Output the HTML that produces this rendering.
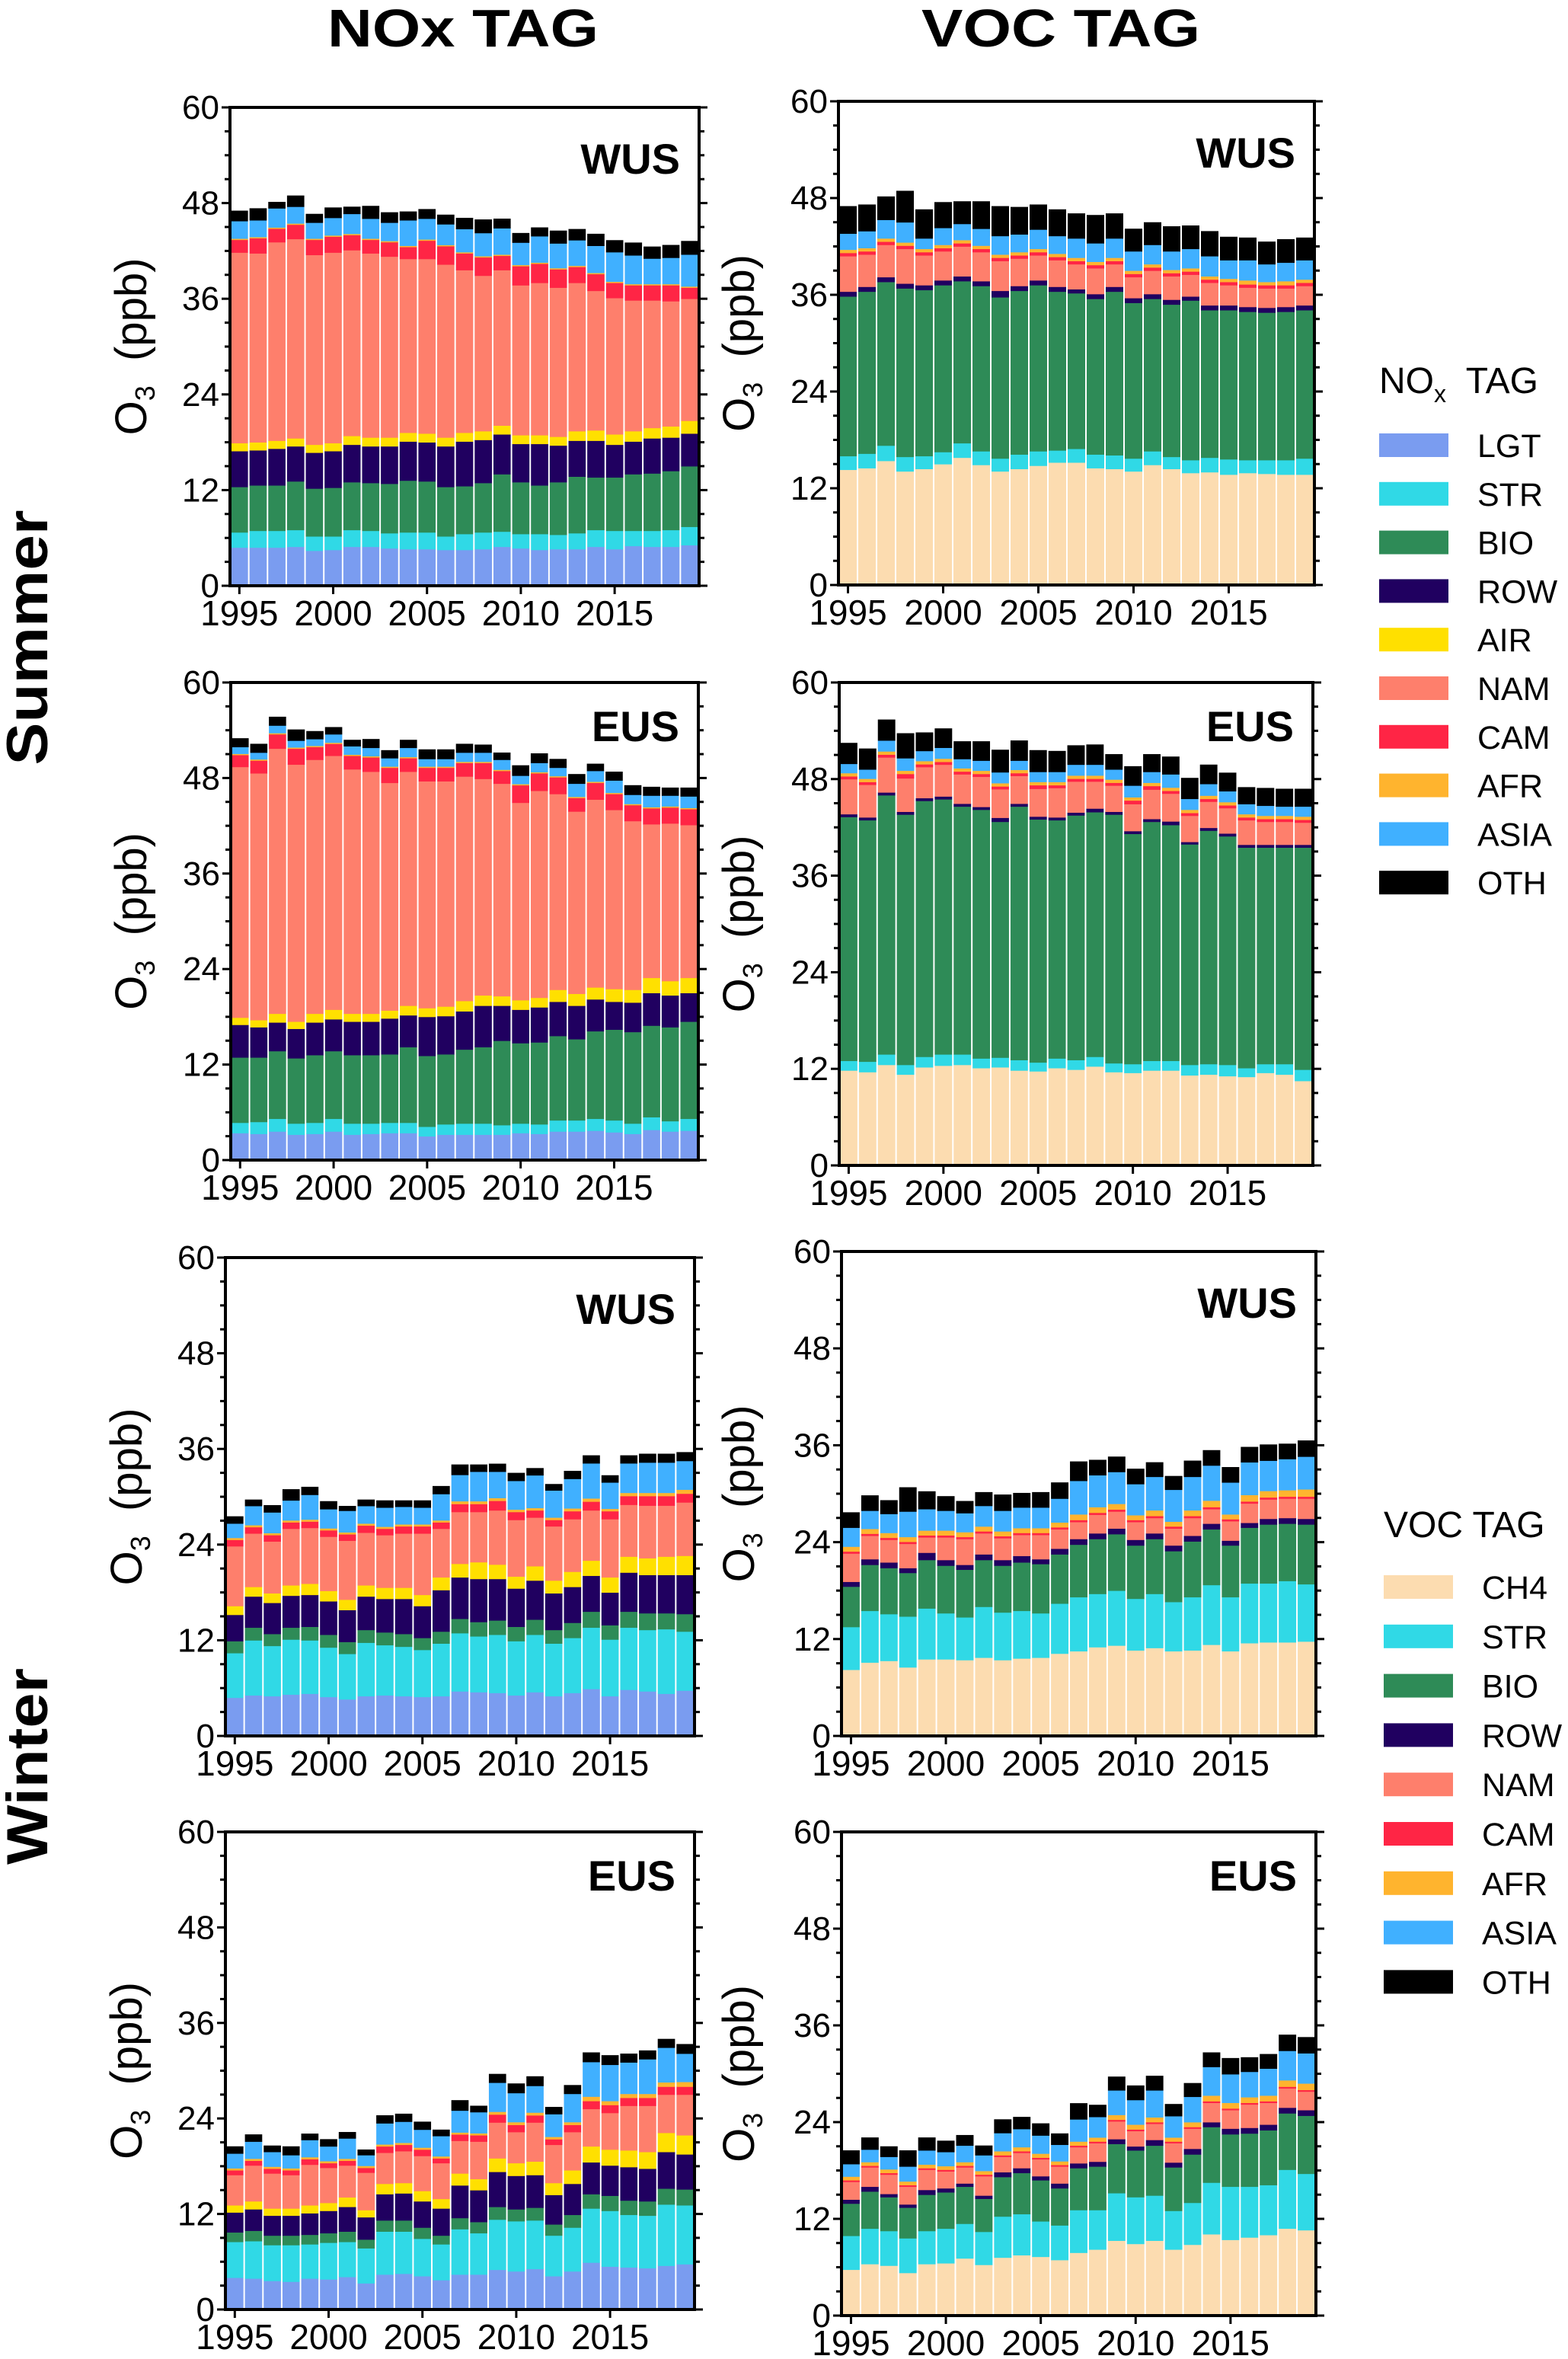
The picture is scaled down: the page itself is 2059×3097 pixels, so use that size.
<!DOCTYPE html>
<html><head><meta charset="utf-8"><style>
html,body{margin:0;padding:0;background:#fff;}
svg{display:block;font-family:"Liberation Sans",Arial,sans-serif;}
</style></head><body>
<svg id="fig" xmlns="http://www.w3.org/2000/svg" width="2059" height="3097" viewBox="0 0 2059 3097">
<text x="608" y="61" font-size="70" font-weight="bold" text-anchor="middle" textLength="356" lengthAdjust="spacingAndGlyphs">NOx TAG</text>
<text x="1393" y="61" font-size="70" font-weight="bold" text-anchor="middle" textLength="366" lengthAdjust="spacingAndGlyphs">VOC TAG</text>
<text transform="translate(62,837) rotate(-90)" font-size="76" font-weight="bold" text-anchor="middle" textLength="335" lengthAdjust="spacingAndGlyphs">Summer</text>
<text transform="translate(62,2319) rotate(-90)" font-size="76" font-weight="bold" text-anchor="middle" textLength="258" lengthAdjust="spacingAndGlyphs">Winter</text>
<g id="panels"></g>
<g id="legends"></g>
</svg>
<script>
const years = [1995,1996,1997,1998,1999,2000,2001,2002,2003,2004,2005,2006,2007,2008,2009,2010,2011,2012,2013,2014,2015,2016,2017,2018,2019];
const yTicks = [0,12,24,36,48,60];
const xTicks = [1995,2000,2005,2010,2015];
const noxTags = ['LGT','STR','BIO','ROW','AIR','NAM','CAM','AFR','ASIA','OTH'];
const vocTags = ['CH4','STR','BIO','ROW','NAM','CAM','AFR','ASIA','OTH'];
const tagColors = {LGT:'#7a9cf0',STR:'#30d9e6',BIO:'#2e8b57',ROW:'#200060',AIR:'#ffe000',NAM:'#fe7f6c',CAM:'#ff2545',AFR:'#ffb42e',ASIA:'#40b0ff',OTH:'#000000',CH4:'#fcdcb0'};

// Panel A: NOx tag, summer, WUS
const noxSumWUS_LGT = [4.8,4.8,4.8,4.9,4.4,4.5,4.9,4.9,4.7,4.6,4.6,4.5,4.5,4.6,4.9,4.7,4.5,4.6,4.6,4.9,4.6,5.0,4.9,4.9,5.1];
const noxSumWUS_STR = [1.9,2.1,2.1,2.1,1.8,1.7,2.1,2.0,1.9,2.1,2.1,1.7,2.0,2.1,1.9,1.8,2.0,1.8,2.0,2.1,2.3,1.9,2.0,2.1,2.3];
const noxSumWUS_BIO = [5.7,5.7,5.7,6.1,6.0,6.1,6.0,6.0,6.2,6.5,6.4,6.2,6.0,6.2,7.2,6.5,6.1,6.6,7.1,6.6,6.7,7.1,7.2,7.4,7.6];
const noxSumWUS_ROW = [4.5,4.4,4.6,4.4,4.5,4.6,4.7,4.6,4.7,4.9,4.9,5.1,5.6,5.4,5.0,4.8,5.2,4.6,4.5,4.6,4.1,4.1,4.4,4.2,4.1];
const noxSumWUS_AIR = [1.0,1.0,1.0,1.0,1.0,1.0,1.1,1.1,1.1,1.1,1.1,1.1,1.1,1.1,1.1,1.1,1.1,1.1,1.2,1.3,1.3,1.3,1.3,1.4,1.6];
const noxSumWUS_NAM = [23.9,23.7,24.9,25.0,23.8,23.9,23.3,23.1,22.7,21.8,21.9,21.7,20.4,19.5,19.5,18.8,19.1,18.7,18.6,17.5,17.1,16.4,16.0,15.7,15.3];
const noxSumWUS_CAM = [1.6,1.9,1.7,1.8,1.9,2.0,1.9,1.7,1.8,1.5,2.3,2.3,2.1,2.3,1.8,2.4,2.4,2.3,2.0,2.1,1.9,1.9,1.9,2.0,1.4];
const noxSumWUS_AFR = [0.15,0.15,0.15,0.15,0.15,0.15,0.15,0.15,0.15,0.15,0.15,0.15,0.15,0.15,0.15,0.15,0.15,0.15,0.15,0.15,0.15,0.15,0.15,0.15,0.15];
const noxSumWUS_ASIA = [2.2,2.1,2.4,2.1,2.0,2.2,2.5,2.5,2.3,3.2,2.6,2.6,2.9,2.9,3.3,2.8,3.3,3.1,3.2,3.4,3.7,3.6,3.2,3.3,4.0];
const noxSumWUS_OTH = [1.3,1.5,0.8,1.4,1.1,1.3,0.9,1.6,1.3,1.1,1.2,1.2,1.4,1.7,1.2,1.2,1.1,1.6,1.4,1.5,1.5,1.6,1.5,1.6,1.7];

// Panel B: VOC tag, summer, WUS
const vocSumWUS_CH4 = [14.3,14.5,15.4,14.1,14.4,15.0,15.8,14.9,14.1,14.4,14.8,15.2,15.2,14.5,14.4,14.1,14.9,14.4,13.9,14.0,13.7,13.9,13.8,13.7,13.7];
const vocSumWUS_STR = [1.7,1.8,1.9,1.8,1.6,1.5,1.8,1.7,1.6,1.8,1.8,1.5,1.7,1.7,1.7,1.6,1.7,1.5,1.6,1.8,1.9,1.6,1.7,1.8,2.0];
const vocSumWUS_BIO = [19.8,20.1,20.3,20.9,20.6,20.7,20.1,20.5,20.0,20.3,20.6,19.7,19.3,19.3,20.3,19.3,18.9,18.9,19.8,18.3,18.5,18.4,18.3,18.4,18.4];
const vocSumWUS_ROW = [0.6,0.6,0.6,0.6,0.6,0.6,0.6,0.6,0.8,0.6,0.6,0.6,0.5,0.6,0.6,0.6,0.6,0.6,0.5,0.6,0.6,0.6,0.6,0.6,0.6];
const vocSumWUS_NAM = [4.4,4.0,4.0,4.3,3.7,3.6,3.7,3.6,3.7,3.4,3.1,3.3,3.1,3.2,2.8,2.6,2.9,2.9,2.7,2.8,2.5,2.4,2.4,2.3,2.4];
const vocSumWUS_CAM = [0.4,0.4,0.4,0.4,0.4,0.4,0.4,0.4,0.4,0.4,0.4,0.4,0.4,0.4,0.4,0.4,0.4,0.4,0.4,0.4,0.4,0.4,0.4,0.4,0.4];
const vocSumWUS_AFR = [0.4,0.4,0.4,0.4,0.4,0.4,0.4,0.4,0.4,0.4,0.4,0.4,0.4,0.4,0.4,0.4,0.4,0.4,0.4,0.4,0.4,0.5,0.4,0.5,0.4];
const vocSumWUS_ASIA = [2.0,2.1,2.3,2.5,1.3,2.1,2.0,2.1,2.3,2.2,2.4,2.2,2.4,2.3,2.4,2.4,2.4,2.3,2.4,2.5,2.3,2.5,2.2,2.3,2.4];
const vocSumWUS_OTH = [3.4,3.3,2.9,3.9,3.6,3.2,2.8,3.4,3.7,3.4,3.1,3.3,3.1,3.5,3.1,2.8,2.8,3.1,2.9,3.1,2.9,2.8,2.8,2.9,2.8];

// Panel C: NOx tag, summer, EUS
const noxSumEUS_LGT = [3.4,3.3,3.6,3.2,3.3,3.6,3.2,3.3,3.4,3.4,3.0,3.2,3.2,3.2,3.2,3.4,3.3,3.6,3.6,3.7,3.5,3.3,3.8,3.6,3.7];
const noxSumEUS_STR = [1.3,1.5,1.6,1.4,1.4,1.6,1.4,1.3,1.3,1.3,1.2,1.3,1.4,1.4,1.2,1.2,1.2,1.4,1.4,1.5,1.5,1.3,1.6,1.3,1.5];
const noxSumEUS_BIO = [8.2,8.1,8.5,8.2,8.5,8.5,8.6,8.6,8.6,9.5,8.9,8.8,9.3,9.6,10.6,10.1,10.3,10.6,10.2,11.0,11.4,11.5,11.5,11.8,12.2];
const noxSumEUS_ROW = [4.1,3.8,3.6,3.7,4.1,4.0,4.2,4.2,4.5,4.0,4.9,4.8,4.8,5.2,4.4,4.2,4.4,4.3,4.2,4.0,3.5,3.7,4.1,4.0,3.6];
const noxSumEUS_AIR = [0.9,0.9,1.1,0.9,1.1,1.2,1.0,1.0,1.0,1.2,1.1,1.2,1.3,1.3,1.2,1.2,1.2,1.5,1.5,1.5,1.6,1.6,1.9,1.8,1.9];
const noxSumEUS_NAM = [31.5,31.0,33.3,32.3,31.9,31.9,30.7,30.4,28.6,29.4,28.5,28.3,28.2,27.2,26.7,24.8,26.0,24.6,22.9,23.6,22.5,21.2,19.3,19.8,19.2];
const noxSumEUS_CAM = [1.5,1.6,1.8,2.0,1.6,1.5,1.7,1.8,1.9,1.7,1.7,1.7,1.7,2.0,1.6,2.2,2.2,2.1,1.7,2.1,2.0,2.0,2.0,2.0,2.0];
const noxSumEUS_AFR = [0.15,0.15,0.15,0.15,0.15,0.15,0.15,0.15,0.15,0.15,0.15,0.15,0.15,0.15,0.15,0.15,0.15,0.15,0.15,0.15,0.15,0.15,0.15,0.15,0.15];
const noxSumEUS_ASIA = [0.85,0.85,0.95,0.85,0.85,1.05,1.05,1.05,1.05,1.15,0.95,0.95,1.15,1.15,1.25,1.05,1.15,1.05,1.65,1.35,1.55,1.15,1.45,1.35,1.45];
const noxSumEUS_OTH = [1.1,1.1,1.1,1.4,1.0,0.9,0.8,1.1,1.0,1.0,1.2,1.2,1.1,1.0,0.9,1.3,1.2,1.1,1.2,0.9,1.1,1.2,1.1,1.0,1.1];

// Panel D: VOC tag, summer, EUS
const vocSumEUS_CH4 = [11.8,11.6,12.5,11.3,12.2,12.4,12.5,12.1,12.2,11.8,11.7,12.1,11.9,12.3,11.6,11.5,11.8,11.8,11.2,11.3,11.1,11.0,11.5,11.3,10.5];
const vocSumEUS_STR = [1.2,1.3,1.3,1.2,1.3,1.4,1.3,1.2,1.2,1.3,1.1,1.2,1.2,1.2,1.1,1.1,1.2,1.2,1.3,1.3,1.4,1.1,1.1,1.3,1.4];
const vocSumEUS_BIO = [30.3,30.0,32.2,31.1,31.8,31.7,30.8,30.9,29.3,31.5,30.2,29.6,30.4,30.4,30.9,28.6,29.7,29.3,27.4,29.0,28.4,27.4,26.9,26.9,27.6];
const vocSumEUS_ROW = [0.35,0.35,0.35,0.35,0.35,0.35,0.35,0.35,0.5,0.35,0.35,0.35,0.35,0.45,0.35,0.35,0.35,0.45,0.3,0.35,0.35,0.35,0.35,0.35,0.35];
const vocSumEUS_NAM = [4.35,4.05,4.35,4.15,3.85,3.95,3.65,3.75,3.55,3.45,3.45,3.65,3.85,3.35,3.25,3.35,3.65,3.45,3.25,3.25,3.15,3.05,2.85,2.85,2.75];
const vocSumEUS_CAM = [0.35,0.35,0.35,0.55,0.35,0.35,0.35,0.35,0.35,0.35,0.45,0.35,0.35,0.35,0.35,0.45,0.45,0.35,0.35,0.35,0.35,0.35,0.35,0.35,0.35];
const vocSumEUS_AFR = [0.4,0.4,0.4,0.4,0.4,0.4,0.4,0.4,0.4,0.4,0.4,0.4,0.4,0.4,0.4,0.4,0.4,0.4,0.4,0.4,0.4,0.4,0.4,0.4,0.4];
const vocSumEUS_ASIA = [1.15,1.15,1.35,1.55,1.25,1.35,1.15,1.25,1.35,1.15,1.25,1.25,1.35,1.35,1.25,1.45,1.35,1.65,1.35,1.45,1.35,1.25,1.25,1.15,1.25];
const vocSumEUS_OTH = [2.6,2.6,2.6,3.1,2.3,2.4,2.2,2.4,2.8,2.5,2.7,2.6,2.4,2.5,1.9,2.4,2.2,2.2,2.6,2.4,2.3,2.1,2.2,2.2,2.2];

// Panel E: NOx tag, winter, WUS
const noxWinWUS_LGT = [4.8,5.1,5.0,5.2,5.3,4.9,4.6,5.0,5.1,5.0,4.9,5.0,5.6,5.5,5.4,5.1,5.5,5.0,5.4,5.9,5.0,5.8,5.6,5.3,5.7];
const noxWinWUS_STR = [5.6,6.9,6.3,6.9,6.7,6.2,5.7,6.7,6.3,6.2,5.9,6.6,7.3,7.0,7.3,6.8,7.2,6.6,6.9,7.7,7.1,7.8,7.7,8.1,7.4];
const noxWinWUS_BIO = [1.5,1.6,1.5,1.5,1.7,1.6,1.5,1.6,1.6,1.6,1.5,1.5,1.8,1.8,1.8,1.8,1.9,1.7,1.9,2.0,1.8,2.0,2.1,2.0,2.2];
const noxWinWUS_ROW = [3.3,3.9,3.9,4.0,4.0,4.2,4.0,4.2,4.2,4.4,4.0,5.2,5.2,5.4,5.2,4.8,4.9,4.6,4.5,4.5,4.1,4.9,4.8,4.8,4.9];
const noxWinWUS_AIR = [1.1,1.2,1.2,1.3,1.4,1.3,1.3,1.4,1.4,1.4,1.4,1.6,1.7,2.1,1.8,1.5,1.8,1.6,1.9,1.9,1.9,2.0,2.1,2.3,2.4];
const noxWinWUS_NAM = [7.5,6.7,6.5,7.1,7.0,6.8,7.4,6.6,6.6,6.8,7.7,6.1,6.5,6.3,6.8,7.1,6.1,6.8,6.6,6.3,7.3,6.5,6.6,6.4,6.7];
const noxWinWUS_CAM = [0.8,0.8,0.8,0.8,0.8,0.8,0.8,0.9,0.8,0.9,0.9,0.8,1.0,1.0,1.2,1.0,0.9,0.8,1.0,1.1,1.0,1.1,1.2,1.2,1.1];
const noxWinWUS_AFR = [0.25,0.25,0.25,0.25,0.25,0.25,0.25,0.25,0.25,0.25,0.25,0.25,0.35,0.35,0.35,0.3,0.3,0.3,0.35,0.4,0.3,0.4,0.4,0.4,0.5];
const noxWinWUS_ASIA = [1.8,2.4,2.6,2.5,3.1,2.4,2.7,2.2,2.4,2.2,2.1,3.3,3.3,3.7,3.3,3.6,4.1,3.4,3.7,4.4,3.3,3.7,3.8,3.8,3.6];
const noxWinWUS_OTH = [0.9,0.8,0.9,1.4,1.0,1.0,0.6,0.8,0.9,0.8,0.9,1.0,1.3,0.9,1.0,1.0,0.9,0.8,1.0,1.0,0.9,1.0,1.1,1.1,1.1];

// Panel F: VOC tag, winter, WUS
const vocWinWUS_CH4 = [8.2,9.1,9.3,8.5,9.5,9.5,9.4,9.7,9.4,9.6,9.7,10.2,10.5,11.0,11.2,10.6,10.9,10.5,10.6,11.3,10.5,11.5,11.6,11.6,11.7];
const vocWinWUS_STR = [5.3,6.4,5.8,6.3,6.3,5.7,5.3,6.3,5.9,5.9,5.5,6.2,6.7,6.6,6.8,6.4,6.7,6.1,6.6,7.4,6.7,7.4,7.3,7.6,7.1];
const vocWinWUS_BIO = [5.0,5.7,5.7,5.4,6.0,5.9,5.9,5.8,5.8,6.0,6.1,6.1,6.5,6.8,7.0,6.6,6.8,6.3,6.9,6.9,6.4,6.9,7.3,7.1,7.4];
const vocWinWUS_ROW = [0.6,0.7,0.7,0.6,0.9,0.7,0.6,0.7,0.7,0.8,0.6,0.7,0.7,0.7,0.7,0.7,0.7,0.7,0.7,0.7,0.6,0.6,0.7,0.7,0.7];
const vocWinWUS_NAM = [3.5,2.9,2.8,3.0,1.9,2.8,3.2,2.6,2.7,2.6,3.0,2.4,2.1,2.3,2.1,2.2,1.9,2.1,2.2,1.8,2.4,2.4,2.4,2.4,2.5];
const vocWinWUS_CAM = [0.25,0.25,0.25,0.25,0.25,0.25,0.25,0.25,0.25,0.25,0.25,0.25,0.25,0.25,0.25,0.25,0.25,0.25,0.25,0.25,0.25,0.25,0.25,0.25,0.25];
const vocWinWUS_AFR = [0.6,0.6,0.6,0.6,0.6,0.6,0.6,0.6,0.6,0.6,0.6,0.6,0.7,0.7,0.7,0.6,0.7,0.6,0.7,0.8,0.6,0.8,0.8,0.8,0.9];
const vocWinWUS_ASIA = [2.35,2.25,2.35,3.15,2.65,2.45,2.35,2.55,2.55,2.55,2.55,2.95,4.15,3.95,3.95,3.85,4.15,3.95,4.15,4.35,3.95,4.05,3.75,3.85,4.05];
const vocWinWUS_OTH = [1.9,1.9,1.7,3.0,2.2,1.8,1.5,1.7,2.0,1.8,1.9,2.0,2.4,1.9,1.9,1.9,1.8,1.7,2.0,1.9,1.9,1.9,2.0,1.9,2.0];

// Panel G: NOx tag, winter, EUS
const noxWinEUS_LGT = [4.0,3.9,3.6,3.5,3.9,3.8,4.1,3.3,4.4,4.5,4.2,3.7,4.4,4.4,5.0,4.8,5.1,4.2,4.8,5.9,5.4,5.3,5.2,5.5,5.7];
const noxWinEUS_STR = [4.5,4.7,4.5,4.6,4.3,4.6,4.4,4.4,5.4,5.3,4.7,4.5,5.7,5.2,6.3,6.3,6.1,5.1,5.5,6.8,7.0,6.6,6.6,7.7,7.4];
const noxWinEUS_BIO = [1.2,1.3,1.2,1.2,1.2,1.2,1.3,1.1,1.4,1.4,1.4,1.1,1.4,1.4,1.6,1.5,1.6,1.4,1.6,1.8,1.9,1.8,1.8,2.0,2.0];
const noxWinEUS_ROW = [2.5,2.7,2.5,2.5,2.7,2.8,3.1,2.8,3.3,3.4,3.3,3.4,4.1,4.0,4.4,4.2,4.1,3.7,3.9,4.0,3.8,4.2,4.1,4.6,4.4];
const noxWinEUS_AIR = [0.9,1.0,0.9,0.9,1.0,1.0,1.2,0.9,1.3,1.3,1.3,1.2,1.5,1.4,1.7,1.6,1.7,1.5,1.7,2.0,2.0,2.1,2.1,2.4,2.4];
const noxWinEUS_NAM = [3.8,4.5,4.4,4.2,5.1,4.4,4.0,4.7,3.9,4.0,4.4,4.5,4.1,4.7,4.5,3.9,4.9,4.8,4.8,4.7,4.6,5.6,5.8,4.8,5.1];
const noxWinEUS_CAM = [0.6,0.6,0.6,0.6,0.7,0.6,0.6,0.6,0.8,0.8,0.8,0.6,0.8,0.8,1.0,0.9,0.9,0.7,0.9,1.0,1.0,1.0,1.0,1.0,1.0];
const noxWinEUS_AFR = [0.25,0.25,0.25,0.25,0.25,0.25,0.25,0.25,0.25,0.25,0.25,0.25,0.25,0.25,0.35,0.35,0.35,0.3,0.35,0.55,0.5,0.5,0.5,0.55,0.6];
const noxWinEUS_ASIA = [1.85,2.15,1.85,1.65,2.15,1.85,2.55,1.35,2.65,2.65,2.25,2.55,2.75,2.65,3.65,3.65,3.35,2.85,3.55,4.35,4.55,3.95,4.35,4.35,3.55];
const noxWinEUS_OTH = [0.9,0.9,0.8,1.1,0.8,0.9,0.8,0.7,1.0,1.0,1.0,0.8,1.3,0.8,1.1,1.2,1.2,0.9,1.1,1.2,1.2,1.1,1.1,1.1,1.2];

// Panel H: VOC tag, winter, EUS
const vocWinEUS_CH4 = [5.7,6.4,6.2,5.3,6.4,6.5,7.1,6.3,7.2,7.5,7.3,6.9,7.8,8.2,9.3,8.9,9.3,8.2,8.8,10.1,9.4,9.7,10.0,10.8,10.6];
const vocWinEUS_STR = [4.2,4.4,4.3,4.3,4.1,4.3,4.3,4.1,5.1,5.1,4.4,4.3,5.3,4.9,5.9,5.8,5.6,4.8,5.2,6.4,6.6,6.3,6.2,7.3,7.0];
const vocWinEUS_BIO = [4.0,4.6,4.2,3.8,4.5,4.5,4.6,4.1,4.9,5.1,5.1,4.6,5.2,5.4,6.1,5.8,6.2,5.4,6.0,6.9,6.5,6.6,6.8,7.0,7.2];
const vocWinEUS_ROW = [0.5,0.6,0.4,0.4,0.6,0.5,0.4,0.4,0.6,0.6,0.5,0.6,0.6,0.6,0.6,0.5,0.7,0.6,0.7,0.6,0.7,0.7,0.7,0.7,0.7];
const vocWinEUS_NAM = [2.2,2.4,2.4,2.2,2.5,2.1,2.0,2.4,1.9,1.9,2.1,2.1,2.0,2.3,2.2,1.9,2.0,2.4,2.5,2.4,2.3,2.9,2.7,2.4,2.3];
const vocWinEUS_CAM = [0.2,0.2,0.2,0.2,0.2,0.2,0.2,0.2,0.2,0.2,0.2,0.2,0.2,0.2,0.2,0.2,0.2,0.2,0.2,0.2,0.2,0.2,0.2,0.2,0.2];
const vocWinEUS_AFR = [0.45,0.45,0.45,0.45,0.45,0.45,0.45,0.45,0.5,0.5,0.5,0.45,0.5,0.5,0.6,0.6,0.6,0.5,0.6,0.7,0.7,0.7,0.7,0.8,0.8];
const vocWinEUS_ASIA = [1.55,1.55,1.55,1.85,1.75,1.75,2.05,1.95,2.25,2.25,2.25,2.05,2.75,2.55,3.05,3.05,3.35,2.65,3.15,3.55,3.55,3.15,3.35,3.65,3.75];
const vocWinEUS_OTH = [1.7,1.5,1.3,2.0,1.6,1.4,1.3,1.2,1.7,1.5,1.5,1.4,2.0,1.5,1.7,1.8,1.8,1.5,1.7,1.8,2.0,1.8,1.8,2.0,2.0];

const NS = 'http://www.w3.org/2000/svg';
function mk(tag, attrs, parent) {
  const e = document.createElementNS(NS, tag);
  for (const k in attrs) e.setAttribute(k, attrs[k]);
  parent.appendChild(e);
  return e;
}

const panelSpecs = [
  {id:'nox-summer-wus', region:'WUS', tags:noxTags, series:[noxSumWUS_LGT,noxSumWUS_STR,noxSumWUS_BIO,noxSumWUS_ROW,noxSumWUS_AIR,noxSumWUS_NAM,noxSumWUS_CAM,noxSumWUS_AFR,noxSumWUS_ASIA,noxSumWUS_OTH], box:[302,141,918,769], yl:192},
  {id:'voc-summer-wus', region:'WUS', tags:vocTags, series:[vocSumWUS_CH4,vocSumWUS_STR,vocSumWUS_BIO,vocSumWUS_ROW,vocSumWUS_NAM,vocSumWUS_CAM,vocSumWUS_AFR,vocSumWUS_ASIA,vocSumWUS_OTH], box:[1101,133,1726,768], yl:990},
  {id:'nox-summer-eus', region:'EUS', tags:noxTags, series:[noxSumEUS_LGT,noxSumEUS_STR,noxSumEUS_BIO,noxSumEUS_ROW,noxSumEUS_AIR,noxSumEUS_NAM,noxSumEUS_CAM,noxSumEUS_AFR,noxSumEUS_ASIA,noxSumEUS_OTH], box:[303,896,917,1523], yl:192},
  {id:'voc-summer-eus', region:'EUS', tags:vocTags, series:[vocSumEUS_CH4,vocSumEUS_STR,vocSumEUS_BIO,vocSumEUS_ROW,vocSumEUS_NAM,vocSumEUS_CAM,vocSumEUS_AFR,vocSumEUS_ASIA,vocSumEUS_OTH], box:[1102,896,1724,1530], yl:990},
  {id:'nox-winter-wus', region:'WUS', tags:noxTags, series:[noxWinWUS_LGT,noxWinWUS_STR,noxWinWUS_BIO,noxWinWUS_ROW,noxWinWUS_AIR,noxWinWUS_NAM,noxWinWUS_CAM,noxWinWUS_AFR,noxWinWUS_ASIA,noxWinWUS_OTH], box:[296,1651,912,2279], yl:186},
  {id:'voc-winter-wus', region:'WUS', tags:vocTags, series:[vocWinWUS_CH4,vocWinWUS_STR,vocWinWUS_BIO,vocWinWUS_ROW,vocWinWUS_NAM,vocWinWUS_CAM,vocWinWUS_AFR,vocWinWUS_ASIA,vocWinWUS_OTH], box:[1105,1643,1728,2279], yl:990},
  {id:'nox-winter-eus', region:'EUS', tags:noxTags, series:[noxWinEUS_LGT,noxWinEUS_STR,noxWinEUS_BIO,noxWinEUS_ROW,noxWinEUS_AIR,noxWinEUS_NAM,noxWinEUS_CAM,noxWinEUS_AFR,noxWinEUS_ASIA,noxWinEUS_OTH], box:[296,2405,912,3032], yl:186},
  {id:'voc-winter-eus', region:'EUS', tags:vocTags, series:[vocWinEUS_CH4,vocWinEUS_STR,vocWinEUS_BIO,vocWinEUS_ROW,vocWinEUS_NAM,vocWinEUS_CAM,vocWinEUS_AFR,vocWinEUS_ASIA,vocWinEUS_OTH], box:[1105,2405,1728,3040], yl:990}
];

const panelsG = document.getElementById('panels');
panelSpecs.forEach(function(p) {
  const [x0,y0,x1,y1] = p.box;
  const g = mk('g', {}, panelsG);
  
  
  const xScale = function(yr){ return x0 + (yr - 1994.5) / 25 * (x1 - x0); };
  const yScale = function(v){ return y1 - v / 60 * (y1 - y0); };
  const slot = (x1 - x0) / 25;
  years.forEach(function(yr, i) {
    let cum = 0;
    p.series.forEach(function(arr, s) {
      const v = arr[i];
      const r = mk('rect', {x: xScale(yr) - slot*0.46, y: yScale(cum + v), width: slot*0.92, height: yScale(cum) - yScale(cum + v) + 0.4, fill: tagColors[p.tags[s]]}, g);
      
      
      cum += v;
    });
  });
  const fr = mk('rect', {x:x0, y:y0, width:x1-x0, height:y1-y0, fill:'none', stroke:'#000', 'stroke-width':4}, g);
  
  
  for (let v = 0; v <= 60; v += 3) {
    const major = (v % 12 === 0);
    const len = major ? 11 : 7;
    const yy = yScale(v);
    const t1 = mk('line', {x1:x0 - len, x2:x0, y1:yy, y2:yy, stroke:'#000', 'stroke-width':3}, g);
    
    
    const t2 = mk('line', {x1:x1, x2:x1 + len, y1:yy, y2:yy, stroke:'#000', 'stroke-width':3}, g);
    
    
  }
  yTicks.forEach(function(v) {
    const tl = mk('text', {x:x0 - 14, y:yScale(v) + 15, 'font-size':44, 'text-anchor':'end'}, g);
    
    
    tl.textContent = v;
  });
  xTicks.forEach(function(yr) {
    const xx = xScale(yr);
    const tk = mk('line', {x1:xx, x2:xx, y1:y1, y2:y1 + 11, stroke:'#000', 'stroke-width':3}, g);
    
    
    const tl = mk('text', {x:xx, y:y1 + 52, 'font-size':46, 'text-anchor':'middle'}, g);
    
    
    tl.textContent = yr;
  });
  const rl = mk('text', {x:x1 - 25, y:y0 + (p.region === 'WUS' ? 87 : 77), 'font-size':56, 'font-weight':'bold', 'text-anchor':'end'}, g);
  
  
  rl.textContent = p.region;
  const yt = mk('text', {transform:'translate(' + p.yl + ',' + ((y0 + y1) / 2) + ') rotate(-90)', 'font-size':58, 'text-anchor':'middle'}, g);
  
  
  const ts1 = mk('tspan', {}, yt); ts1.textContent = 'O';
  const ts2 = mk('tspan', {'font-size':36, dy:11}, yt); ts2.textContent = '3';
  const ts3 = mk('tspan', {dy:-11}, yt); ts3.textContent = '\u00a0 (ppb)';
});

const legG = document.getElementById('legends');
function legend(name, tags, x, titleY, firstTop, step, sub) {
  const g = mk('g', {}, legG);
  
  
  const t = mk('text', {x:x, y:titleY, 'font-size':48}, g);
  
  
  if (sub) {
    const a = mk('tspan', {}, t); a.textContent = 'NO';
    const b = mk('tspan', {'font-size':32, dy:12}, t); b.textContent = 'x';
    const c = mk('tspan', {dy:-12}, t); c.textContent = '\u00a0 TAG';
  } else {
    t.textContent = 'VOC TAG';
  }
  tags.forEach(function(tag, i) {
    const top = firstTop + step * i;
    const sw = mk('rect', {x:x, y:top, width:91, height:31, fill:tagColors[tag]}, g);
    
    
    const lb = mk('text', {x:x + 129, y:top + 31, 'font-size':43}, g);
    
    
    lb.textContent = tag;
  });
}
legend('nox-tag-legend', noxTags, 1811, 516, 569, 63.8, true);
legend('voc-tag-legend', vocTags, 1817, 2018, 2068, 64.8, false);
</script>
</body></html>
